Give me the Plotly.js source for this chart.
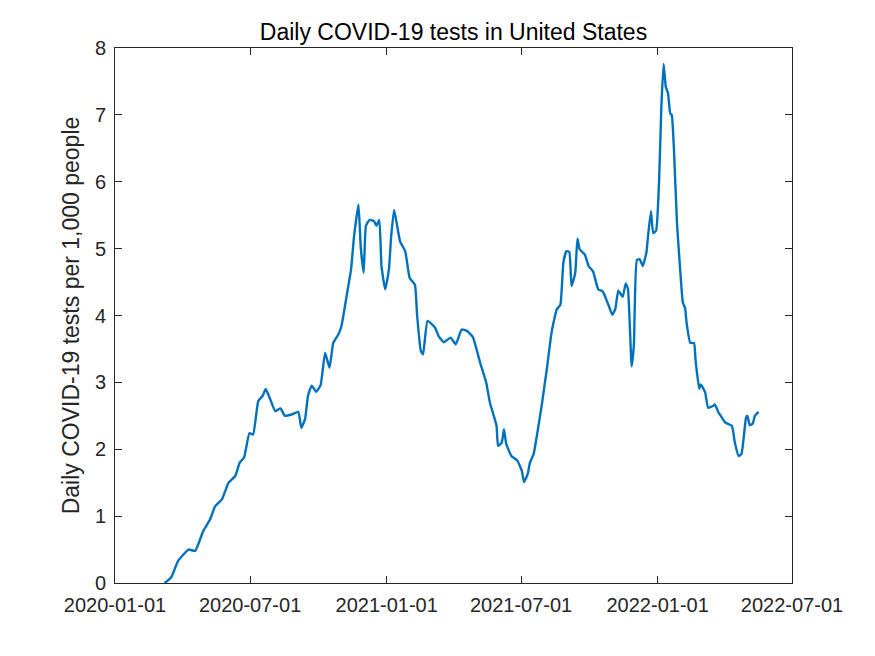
<!DOCTYPE html>
<html>
<head>
<meta charset="utf-8">
<script src="https://cdn.plot.ly/plotly-3.0.1.min.js"></script>
<style>
  html, body { margin: 0; padding: 0; background: #ffffff; }
  #chart { width: 875px; height: 656px; }
</style>
</head>
<body>
<div id="chart"></div>
<script>
const dates = [
  "2020-03-08","2020-03-17","2020-03-26","2020-04-09","2020-04-18","2020-04-29","2020-05-08","2020-05-15","2020-05-24",
  "2020-06-02","2020-06-11","2020-06-17","2020-06-23","2020-06-30","2020-07-05","2020-07-12","2020-07-18","2020-07-22",
  "2020-07-28","2020-08-04","2020-08-11","2020-08-17","2020-08-26","2020-09-04","2020-09-08","2020-09-13","2020-09-17",
  "2020-09-22","2020-09-28","2020-10-04","2020-10-10","2020-10-16","2020-10-21","2020-10-28","2020-11-01","2020-11-08",
  "2020-11-14","2020-11-18","2020-11-24","2020-11-27","2020-12-01","2020-12-04","2020-12-09","2020-12-15","2020-12-18",
  "2020-12-22","2020-12-25","2020-12-30","2021-01-04","2021-01-07","2021-01-11","2021-01-19","2021-01-26","2021-02-01",
  "2021-02-08","2021-02-11","2021-02-16","2021-02-19","2021-02-25","2021-03-07","2021-03-12","2021-03-19","2021-03-28",
  "2021-04-04","2021-04-12","2021-04-19","2021-04-27","2021-05-07","2021-05-15","2021-05-20","2021-05-29","2021-05-31",
  "2021-06-05","2021-06-08","2021-06-11","2021-06-18","2021-06-26","2021-07-02","2021-07-05","2021-07-10","2021-07-13",
  "2021-07-18","2021-07-22","2021-07-29","2021-08-05","2021-08-11","2021-08-18","2021-08-23","2021-08-27","2021-08-31",
  "2021-09-04","2021-09-07","2021-09-12","2021-09-15","2021-09-18","2021-09-25","2021-09-30","2021-10-06","2021-10-13",
  "2021-10-19","2021-10-27","2021-11-01","2021-11-05","2021-11-09","2021-11-15","2021-11-19","2021-11-22","2021-11-27",
  "2021-11-30","2021-12-04","2021-12-08","2021-12-12","2021-12-17","2021-12-19","2021-12-23","2021-12-26","2021-12-30",
  "2022-01-03","2022-01-06","2022-01-09","2022-01-12","2022-01-15","2022-01-18","2022-01-20","2022-01-23","2022-01-27",
  "2022-01-31","2022-02-04","2022-02-07","2022-02-09","2022-02-14","2022-02-19","2022-02-21","2022-02-26","2022-02-28",
  "2022-03-06","2022-03-10","2022-03-17","2022-03-19","2022-03-24","2022-03-27","2022-04-02","2022-04-11","2022-04-15",
  "2022-04-20","2022-04-24","2022-04-30","2022-05-02","2022-05-05","2022-05-09","2022-05-12","2022-05-17"
];
const testsPerThousand = [
  0.00, 0.09, 0.33, 0.50, 0.48, 0.78, 0.95, 1.15, 1.25,
  1.50, 1.60, 1.80, 1.88, 2.24, 2.22, 2.72, 2.80, 2.90,
  2.75, 2.57, 2.61, 2.50, 2.52, 2.56, 2.32, 2.45, 2.80,
  2.95, 2.86, 2.96, 3.44, 3.22, 3.59, 3.72, 3.84, 4.29,
  4.69, 5.18, 5.66, 5.03, 4.64, 5.34, 5.43, 5.41, 5.34,
  5.43, 4.74, 4.39, 4.69, 5.18, 5.58, 5.11, 4.96, 4.56,
  4.46, 4.00, 3.47, 3.42, 3.92, 3.82, 3.69, 3.60, 3.67,
  3.57, 3.79, 3.77, 3.68, 3.29, 3.00, 2.70, 2.35, 2.05,
  2.10, 2.30, 2.08, 1.90, 1.83, 1.68, 1.51, 1.63, 1.80,
  1.93, 2.18, 2.67, 3.22, 3.74, 4.09, 4.16, 4.79, 4.96,
  4.95, 4.44, 4.64, 5.15, 4.99, 4.91, 4.74, 4.66, 4.39,
  4.36, 4.15, 4.01, 4.10, 4.37, 4.28, 4.48, 4.40, 3.24,
  3.56, 4.83, 4.84, 4.74, 4.95, 5.18, 5.56, 5.23, 5.27,
  6.03, 7.12, 7.76, 7.42, 7.32, 7.02, 7.00, 6.48, 5.39,
  4.74, 4.19, 4.11, 3.89, 3.59, 3.59, 3.34, 2.90, 2.97,
  2.85, 2.62, 2.65, 2.67, 2.55, 2.50, 2.40, 2.35, 2.10,
  1.90, 1.93, 2.47, 2.50, 2.36, 2.38, 2.50, 2.56
];
const xTickDates = ["2020-01-01","2020-07-01","2021-01-01","2021-07-01","2022-01-01","2022-07-01"];
const xTickLabels = ["2020-01-01","2020-07-01","2021-01-01","2021-07-01","2022-01-01","2022-07-01"];
const yTicks = [0, 1, 2, 3, 4, 5, 6, 7, 8];

const axisColor = "#262626";
const fontFam = "Liberation Sans, Arial, Helvetica, sans-serif";

const trace = {
  x: dates,
  y: testsPerThousand,
  type: "scatter",
  mode: "lines",
  line: { color: "#0072BD", width: 2.4, shape: "spline", smoothing: 0.4 },
  hoverinfo: "x+y"
};

const layout = {
  width: 875,
  height: 656,
  paper_bgcolor: "#ffffff",
  plot_bgcolor: "#ffffff",
  margin: { l: 115, r: 83, t: 48, b: 73, pad: 0 },
  showlegend: false,
  title: {
    text: "Daily COVID-19 tests in United States",
    font: { family: fontFam, size: 23, color: "#000000" },
    x: 0.5, xref: "paper", xanchor: "center",
    y: 1, yref: "paper", yanchor: "bottom", pad: { b: 8 }
  },
  xaxis: {
    type: "date",
    range: ["2020-01-01", "2022-07-01"],
    tickmode: "array",
    tickvals: xTickDates,
    ticktext: xTickLabels,
    ticks: "inside",
    ticklen: 7,
    tickwidth: 1,
    tickcolor: axisColor,
    showline: true,
    linecolor: axisColor,
    linewidth: 1,
    mirror: "ticks",
    showgrid: false,
    zeroline: false,
    tickfont: { family: fontFam, size: 20, color: axisColor },
    ticklabelstandoff: 4
  },
  yaxis: {
    range: [0, 8],
    tickmode: "array",
    tickvals: yTicks,
    ticks: "inside",
    ticklen: 7,
    tickwidth: 1,
    tickcolor: axisColor,
    showline: true,
    linecolor: axisColor,
    linewidth: 1,
    mirror: "ticks",
    showgrid: false,
    zeroline: false,
    tickfont: { family: fontFam, size: 20, color: axisColor },
    ticklabelstandoff: 4,
    title: {
      text: "Daily COVID-19 tests per 1,000 people",
      font: { family: fontFam, size: 23, color: axisColor },
      standoff: 8
    }
  }
};

Plotly.newPlot("chart", [trace], layout, { displayModeBar: false, staticPlot: true });
</script>
</body>
</html>
